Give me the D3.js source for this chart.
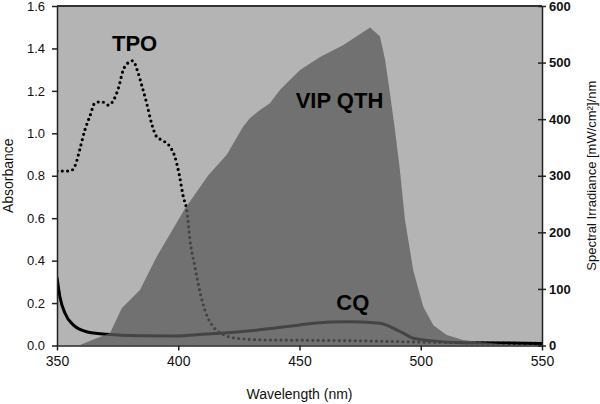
<!DOCTYPE html>
<html>
<head>
<meta charset="utf-8">
<script src="https://cdn.jsdelivr.net/npm/d3@7"></script>
<style>
  html, body { margin: 0; padding: 0; background: #fff; }
  svg { display: block; }
  text { font-family: "Liberation Sans", Arial, sans-serif; fill: #111; }
</style>
</head>
<body>
<svg id="chart" width="600" height="404"></svg>
<script>
// ---- data ----
const tpoNm  = [350, 355.4, 357.4, 359.5, 361.5, 363.6, 365.7, 368.4, 371.2, 373.2, 375.3, 377.3, 379.4, 381.2, 383.5, 384.9, 387, 389, 391.1, 393.8, 396.6, 398.6, 400.5, 402.1, 403.5, 404.8, 406.9, 409, 411, 415, 420, 425, 436, 450, 475, 500, 525, 550];
const tpoAbs = [0.822, 0.822, 0.846, 0.929, 1.016, 1.082, 1.144, 1.149, 1.133, 1.154, 1.212, 1.298, 1.333, 1.342, 1.283, 1.228, 1.141, 1.047, 0.984, 0.965, 0.937, 0.89, 0.80, 0.70, 0.64, 0.50, 0.37, 0.25, 0.167, 0.081, 0.045, 0.033, 0.026, 0.025, 0.022, 0.016, 0.012, 0.01];

const cqNm  = [350, 351.2, 353.3, 356.7, 362.2, 370.5, 384.2, 398, 411.7, 425.5, 439.2, 450.2, 455.7, 469.5, 483.2, 487.3, 492.8, 497, 503.8, 517.6, 550];
const cqAbs = [0.321, 0.23, 0.152, 0.097, 0.065, 0.053, 0.046, 0.045, 0.054, 0.065, 0.081, 0.097, 0.105, 0.112, 0.105, 0.089, 0.058, 0.034, 0.023, 0.013, 0.01];

const vipNm  = [350, 359, 364.8, 371.9, 376.7, 384.2, 391.1, 402.8, 412.4, 420, 426.8, 429.6, 433.7, 437.8, 442, 450.2, 458.5, 468.1, 479.1, 483.2, 485.3, 487.3, 489.4, 491.4, 493.5, 496.9, 501, 505.2, 510.7, 517.4, 524.4, 536.8, 550];
const vipIrr = [0, 0, 10, 22, 66, 98, 157, 242, 301, 337, 387, 402, 416, 428, 452, 487, 510, 531, 562, 546, 505, 446, 380, 310, 222, 133, 69, 36, 18.5, 9.7, 6, 1, 0];

const xTicks = [350, 400, 450, 500, 550];
const absTicks = [0, 0.2, 0.4, 0.6, 0.8, 1.0, 1.2, 1.4, 1.6];
const irrTicks = [0, 100, 200, 300, 400, 500, 600];

const seriesLabels = [
  {text: "TPO", nm: 382, abs: 1.39},
  {text: "VIP QTH", nm: 466.5, abs: 1.12},
  {text: "CQ", nm: 472, abs: 0.165}
];

// ---- layout ----
const L = 57, R = 542, T = 6, B = 345.5;
const svg = d3.select("#chart");

const x = d3.scaleLinear().domain([350, 550]).range([L, R]);
const yL = d3.scaleLinear().domain([0, 1.6]).range([B, T]);
const yR = d3.scaleLinear().domain([0, 600]).range([B, T]);

svg.append("defs").append("clipPath").attr("id", "plotclip")
  .append("rect").attr("x", L).attr("y", T).attr("width", R - L).attr("height", B - T);

svg.append("rect").attr("x", L).attr("y", T).attr("width", R - L).attr("height", B - T)
  .attr("fill", "#b4b4b4");

const g = svg.append("g").attr("clip-path", "url(#plotclip)");

const lineGen = d3.line().x(d => x(d[0])).y(d => yL(d[1])).curve(d3.curveMonotoneX);

// CQ solid line
g.append("path")
  .datum(cqNm.map((n, i) => [n, cqAbs[i]]))
  .attr("d", lineGen)
  .attr("fill", "none").attr("stroke", "#000").attr("stroke-width", 3);

// TPO dotted line
g.append("path")
  .datum(tpoNm.map((n, i) => [n, tpoAbs[i]]))
  .attr("d", lineGen)
  .attr("fill", "none").attr("stroke", "#000").attr("stroke-width", 3.2)
  .attr("stroke-linecap", "round").attr("stroke-dasharray", "0,5.3");

// VIP QTH irradiance area (semi-transparent over lines)
const areaGen = d3.area().x(d => x(d[0])).y0(yR(0)).y1(d => yR(d[1]));
g.append("path")
  .datum(vipNm.map((n, i) => [n, vipIrr[i]]))
  .attr("d", areaGen)
  .attr("fill", "rgb(91,91,91)").attr("fill-opacity", 0.75);

// top frame
svg.append("line").attr("x1", L).attr("x2", R).attr("y1", T).attr("y2", T)
  .attr("stroke", "#333").attr("stroke-width", 2);

// axes
const axL = svg.append("g").attr("transform", `translate(${L},0)`)
  .call(d3.axisLeft(yL).tickValues(absTicks).tickFormat(d3.format(".1f"))
    .tickSize(5).tickSizeOuter(0).tickPadding(7));
axL.selectAll("text").style("font-size", "13px");

const axR = svg.append("g").attr("transform", `translate(${R},0)`)
  .call(d3.axisRight(yR).tickValues(irrTicks).tickFormat(d3.format("d"))
    .tickSize(4).tickSizeOuter(0).tickPadding(3));
axR.selectAll(".tick line").attr("x1", -4);
axR.selectAll("text").style("font-size", "13px").style("font-weight", "bold");

const axB = svg.append("g").attr("transform", `translate(0,${B})`)
  .call(d3.axisBottom(x).tickValues(xTicks).tickFormat(d3.format("d"))
    .tickSize(5).tickSizeOuter(0).tickPadding(6));
axB.selectAll("text").style("font-size", "14px");

[axL, axR, axB].forEach(a => {
  a.selectAll(".domain").attr("stroke", "#222").attr("stroke-width", 1.5);
  a.selectAll(".tick line").attr("stroke", "#222").attr("stroke-width", 1.5);
  a.selectAll("text").attr("fill", "#111").style("font-family", '"Liberation Sans", Arial, sans-serif');
});

// axis titles
svg.append("text").attr("x", (L + R) / 2).attr("y", 399)
  .attr("text-anchor", "middle").style("font-size", "14px").text("Wavelength (nm)");
svg.append("text").attr("transform", `translate(12.5,${(T + B) / 2}) rotate(-90)`)
  .attr("text-anchor", "middle").style("font-size", "14px").text("Absorbance");
svg.append("text").attr("transform", `translate(596,${(T + B) / 2}) rotate(-90)`)
  .attr("text-anchor", "middle").style("font-size", "13px").text("Spectral Irradiance [mW/cm²]/nm");

// series labels
svg.selectAll("text.series").data(seriesLabels).enter().append("text")
  .attr("class", "series")
  .attr("x", d => x(d.nm)).attr("y", d => yL(d.abs))
  .attr("text-anchor", "middle")
  .style("font-size", "22px").style("font-weight", "bold").style("fill", "#000")
  .text(d => d.text);
</script>
</body>
</html>
